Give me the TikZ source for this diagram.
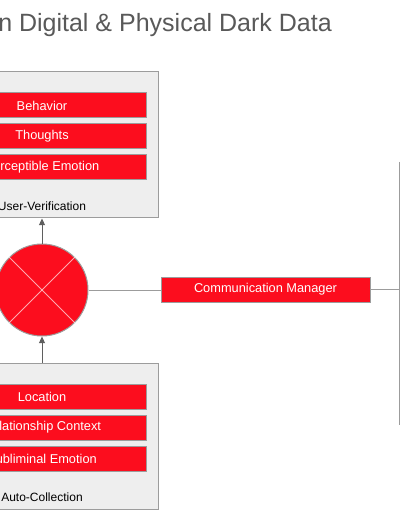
\documentclass[tikz,border=0pt]{standalone}
\usepackage{fontspec}
\setmainfont{Liberation Sans}
\usetikzlibrary{arrows.meta}
\definecolor{alertred}{HTML}{FC0D1E}
\definecolor{panelgray}{HTML}{EEEEEE}
\definecolor{edgegray}{HTML}{9C9C9C}
\definecolor{arrowgray}{HTML}{5F5F5F}
\definecolor{titlegray}{HTML}{595959}

\begin{document}
\begin{tikzpicture}[
  x=0.75pt, y=-0.75pt,
  >={Triangle[length=5pt,width=4.5pt]},
  panel/.style={draw=edgegray, fill=panelgray, line width=0.75pt,
    minimum width=174pt, minimum height=109.5pt, inner sep=0pt},
  tag/.style={draw=edgegray, fill=alertred, text=white, line width=0.75pt,
    minimum width=156pt, minimum height=18.75pt, inner sep=0pt,
    font=\fontsize{9.6}{11}\selectfont},
  caption/.style={font=\fontsize{9}{11}\selectfont, text=black, inner sep=0pt},
  hubstyle/.style={circle, draw=edgegray, fill=alertred, line width=0.75pt,
    minimum size=69pt, inner sep=0pt},
  xline/.style={draw=white, opacity=0.65, line width=0.75pt},
  link/.style={draw=edgegray, line width=0.75pt},
  arr/.style={->, draw=arrowgray, fill=arrowgray, line width=0.75pt}
]
\useasboundingbox (0,0) rectangle (400,516);
\clip (0,0) rectangle (400,516);
\node[anchor=base east, text=titlegray, inner sep=0pt,
  font=\fontsize{18.75}{22}\selectfont] (title) at (332,32)
  {n Digital \& Physical Dark Data};
\node[panel] (verify) at (42,145) {};
\node[tag] (behavior) at (42,105.5) {Behavior};
\node[tag] (thoughts) at (42,136.5) {Thoughts};
\node[tag] (perceptible) at (42,167) {Perceptible Emotion};
\node[caption] (verifylabel) at (42,206) {User-Verification};
\node[hubstyle] (hub) at (42,290) {};
\draw[xline] (hub.north west) -- (hub.south east);
\draw[xline] (hub.north east) -- (hub.south west);
\node[panel] (collect) at (42,436) {};
\node[tag] (location) at (42,396.5) {Location};
\node[tag] (context) at (42,427.5) {Relationship Context};
\node[tag] (subliminal) at (42,458.5) {Subliminal Emotion};
\node[caption] (collectlabel) at (42,497) {Auto-Collection};
\node[tag, minimum width=156.75pt] (manager) at (265.5,289.5)
  {Communication Manager};
\coordinate (bustop) at (399,162);
\coordinate (busbottom) at (399,425);
\draw[link] (bustop) -- (busbottom);
\draw[link] (hub.east) -- (hub.east -| manager.west);
\draw[link] (manager.east) -- (manager.east -| bustop);
\draw[arr] (hub) -- (verify);
\draw[arr] (collect) -- (hub);
\end{tikzpicture}
\end{document}
